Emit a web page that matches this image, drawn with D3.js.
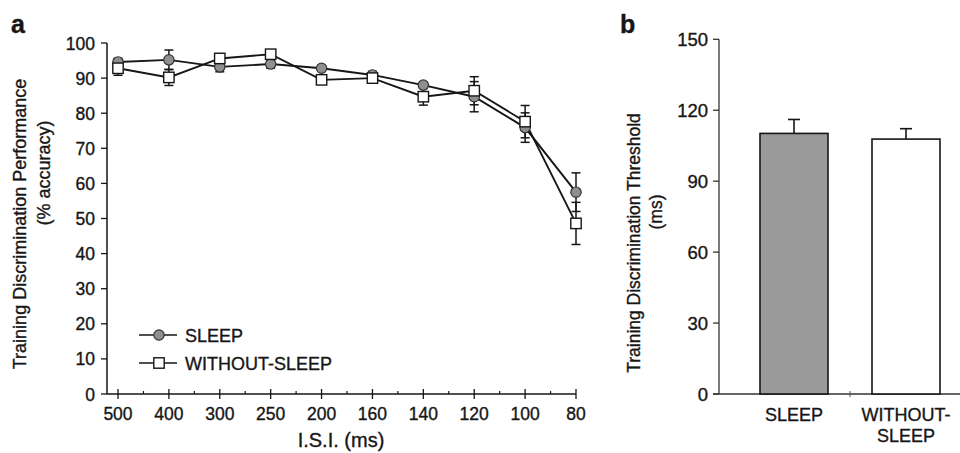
<!DOCTYPE html>
<html>
<head>
<meta charset="utf-8">
<script src="https://cdn.jsdelivr.net/npm/d3@7"></script>
<style>
  html, body { margin: 0; padding: 0; background: #fff; }
  svg { display: block; font-family: "Liberation Sans", Arial, Helvetica, sans-serif; }
  svg text { stroke: #161616; stroke-width: 0.35px; }
</style>
</head>
<body>
<svg id="chart" width="960" height="453"></svg>
<script>
// ---------- data ----------
const isiLabels = ["500", "400", "300", "250", "200", "160", "140", "120", "100", "80"];
const sleepMean = [94.6, 95.2, 93.2, 94.0, 92.8, 90.9, 88.0, 84.7, 75.9, 57.5];
const sleepErr  = [1.0, 2.8, 1.4, 1.2, 0.7, 1.0, 0.8, 4.3, 4.2, 5.5];
const wsMean    = [92.8, 90.2, 95.6, 96.8, 89.5, 90.0, 84.7, 86.4, 77.6, 48.6];
const wsErr     = [2.0, 2.3, 1.2, 1.0, 0.7, 0.8, 2.4, 4.0, 4.6, 6.0];
const yTicksA   = [0, 10, 20, 30, 40, 50, 60, 70, 80, 90, 100];

const groups    = ["SLEEP", "WITHOUT-SLEEP"];
const groupLbl  = [["SLEEP"], ["WITHOUT-", "SLEEP"]];
const thrMean   = [110.2, 107.8];
const thrErr    = [5.9, 4.4];
const yTicksB   = [0, 30, 60, 90, 120, 150];

const svg = d3.select("#chart");
const ink = "#161616";
const fsTick = 17.5;
const fsTitle = 18;

// ---------- panel a ----------
const xA = d3.scalePoint().domain(isiLabels).range([118, 576]);
const yA = d3.scaleLinear().domain([0, 100]).range([394, 43]);
const a = svg.append("g");

// y axis
a.append("line").attr("x1", 107).attr("x2", 107).attr("y1", yA(100)).attr("y2", yA(0))
  .attr("stroke", ink).attr("stroke-width", 1.5);
a.selectAll("line.ytick").data(yTicksA).enter().append("line")
  .attr("x1", 101).attr("x2", 107).attr("y1", d => yA(d)).attr("y2", d => yA(d))
  .attr("stroke", ink).attr("stroke-width", 1.3);
a.selectAll("text.ylab").data(yTicksA).enter().append("text")
  .attr("x", 95).attr("y", d => yA(d) + 6.5)
  .attr("text-anchor", "end").attr("font-size", fsTick).attr("fill", ink)
  .text(d => d);

// x axis
a.append("line").attr("x1", 107).attr("x2", xA("80")).attr("y1", yA(0)).attr("y2", yA(0))
  .attr("stroke", ink).attr("stroke-width", 1.5);
a.selectAll("line.xtick").data(isiLabels).enter().append("line")
  .attr("x1", d => xA(d)).attr("x2", d => xA(d)).attr("y1", yA(0) - 5).attr("y2", yA(0) + 5)
  .attr("stroke", ink).attr("stroke-width", 1.3);
const step = xA.step();
a.selectAll("line.xminor").data(isiLabels.slice(0, -1)).enter().append("line")
  .attr("x1", d => xA(d) + step / 2).attr("x2", d => xA(d) + step / 2)
  .attr("y1", yA(0) - 3).attr("y2", yA(0))
  .attr("stroke", ink).attr("stroke-width", 1.2);
a.selectAll("text.xlab").data(isiLabels).enter().append("text")
  .attr("x", d => xA(d)).attr("y", 420)
  .attr("text-anchor", "middle").attr("font-size", fsTick).attr("fill", ink)
  .text(d => d);

a.append("text").attr("x", 341).attr("y", 447).attr("text-anchor", "middle")
  .attr("font-size", 20).attr("fill", ink).text("I.S.I. (ms)");

a.append("text").attr("transform", "translate(26,224) rotate(-90)")
  .attr("text-anchor", "middle").attr("font-size", fsTitle).attr("fill", ink)
  .text("Training Discrimination Performance");
a.append("text").attr("transform", "translate(50,173) rotate(-90)")
  .attr("text-anchor", "middle").attr("font-size", fsTitle).attr("fill", ink)
  .text("(% accuracy)");

a.append("text").attr("x", 11).attr("y", 33).attr("font-size", 25)
  .attr("font-weight", "bold").attr("fill", ink).text("a");

// series
const series = [
  { name: "SLEEP", mean: sleepMean, err: sleepErr, shape: "circle", fill: "#8f8f8f" },
  { name: "WITHOUT-SLEEP", mean: wsMean, err: wsErr, shape: "square", fill: "#ffffff" }
];

const line = d3.line().x((d, i) => xA(isiLabels[i])).y(d => yA(d));

series.forEach(s => {
  const gs = a.append("g");
  const pts = s.mean.map((m, i) => ({ k: isiLabels[i], m, e: s.err[i] }));
  // error bars
  gs.selectAll("line.eb").data(pts).enter().append("line")
    .attr("x1", d => xA(d.k)).attr("x2", d => xA(d.k))
    .attr("y1", d => yA(d.m - d.e)).attr("y2", d => yA(d.m + d.e))
    .attr("stroke", ink).attr("stroke-width", 1.5);
  [-1, 1].forEach(sg => {
    gs.selectAll(null).data(pts).enter().append("line")
      .attr("x1", d => xA(d.k) - 4.5).attr("x2", d => xA(d.k) + 4.5)
      .attr("y1", d => yA(d.m + sg * d.e)).attr("y2", d => yA(d.m + sg * d.e))
      .attr("stroke", ink).attr("stroke-width", 1.5);
  });
  gs.append("path").datum(s.mean).attr("d", line)
    .attr("fill", "none").attr("stroke", ink).attr("stroke-width", 1.9);
});

series.forEach(s => {
  const pts = s.mean.map((m, i) => ({ k: isiLabels[i], m }));
  if (s.shape === "circle") {
    a.selectAll(null).data(pts).enter().append("circle")
      .attr("cx", d => xA(d.k)).attr("cy", d => yA(d.m)).attr("r", 5.2)
      .attr("fill", s.fill).attr("stroke", "#333").attr("stroke-width", 1.2);
  } else {
    a.selectAll(null).data(pts).enter().append("rect")
      .attr("x", d => xA(d.k) - 5.2).attr("y", d => yA(d.m) - 5.2)
      .attr("width", 10.4).attr("height", 10.4)
      .attr("fill", s.fill).attr("stroke", ink).attr("stroke-width", 1.4);
  }
});

// legend
const lg = a.append("g");
series.forEach((s, i) => {
  const y = 335 + i * 28;
  lg.append("line").attr("x1", 139).attr("x2", 177).attr("y1", y).attr("y2", y)
    .attr("stroke", ink).attr("stroke-width", 1.7);
  if (s.shape === "circle") {
    lg.append("circle").attr("cx", 159).attr("cy", y).attr("r", 5.2)
      .attr("fill", s.fill).attr("stroke", "#333").attr("stroke-width", 1.2);
  } else {
    lg.append("rect").attr("x", 153.8).attr("y", y - 5.2).attr("width", 10.4).attr("height", 10.4)
      .attr("fill", s.fill).attr("stroke", ink).attr("stroke-width", 1.4);
  }
  lg.append("text").attr("x", 185).attr("y", y + 6.5).attr("font-size", fsTitle)
    .attr("fill", ink).text(s.name);
});

// ---------- panel b ----------
const xB = d3.scaleBand().domain(groups).range([738, 962]).paddingInner(44 / 112).paddingOuter(22 / 112);
const yB = d3.scaleLinear().domain([0, 150]).range([394, 39.3]);
const b = svg.append("g");

b.append("line").attr("x1", 719).attr("x2", 719).attr("y1", yB(150)).attr("y2", yB(0))
  .attr("stroke", "#333").attr("stroke-width", 1.3);
b.selectAll("line.ytick").data(yTicksB).enter().append("line")
  .attr("x1", 713).attr("x2", 719).attr("y1", d => yB(d)).attr("y2", d => yB(d))
  .attr("stroke", "#333").attr("stroke-width", 1.3);
b.selectAll("text.ylab").data(yTicksB).enter().append("text")
  .attr("x", 708).attr("y", d => yB(d) + 6.5)
  .attr("text-anchor", "end").attr("font-size", 18.5).attr("fill", ink)
  .text(d => d);

b.append("line").attr("x1", 713).attr("x2", 960).attr("y1", yB(0)).attr("y2", yB(0))
  .attr("stroke", "#333").attr("stroke-width", 1.3);
const midTick = xB(groups[0]) + xB.bandwidth() + (xB.step() - xB.bandwidth()) / 2;
b.append("line").attr("x1", midTick).attr("x2", midTick).attr("y1", yB(0) - 3).attr("y2", yB(0) + 3)
  .attr("stroke", "#555").attr("stroke-width", 1);

// bars
const bars = groups.map((g, i) => ({ g, m: thrMean[i], e: thrErr[i], fill: i === 0 ? "#9a9a9a" : "#ffffff" }));
b.selectAll("line.eb").data(bars).enter().append("line")
  .attr("x1", d => xB(d.g) + xB.bandwidth() / 2).attr("x2", d => xB(d.g) + xB.bandwidth() / 2)
  .attr("y1", d => yB(d.m)).attr("y2", d => yB(d.m + d.e))
  .attr("stroke", ink).attr("stroke-width", 1.6);
b.selectAll("line.cap").data(bars).enter().append("line")
  .attr("x1", d => xB(d.g) + xB.bandwidth() / 2 - 6).attr("x2", d => xB(d.g) + xB.bandwidth() / 2 + 6)
  .attr("y1", d => yB(d.m + d.e)).attr("y2", d => yB(d.m + d.e))
  .attr("stroke", ink).attr("stroke-width", 1.6);
b.selectAll("rect.bar").data(bars).enter().append("rect")
  .attr("x", d => xB(d.g)).attr("y", d => yB(d.m))
  .attr("width", xB.bandwidth()).attr("height", d => yB(0) - yB(d.m))
  .attr("fill", d => d.fill).attr("stroke", ink).attr("stroke-width", 1.6);

groups.forEach((g, i) => {
  groupLbl[i].forEach((t, j) => {
    b.append("text").attr("x", xB(g) + xB.bandwidth() / 2).attr("y", 421 + j * 21)
      .attr("text-anchor", "middle").attr("font-size", fsTitle).attr("fill", ink).text(t);
  });
});

b.append("text").attr("transform", "translate(640,243) rotate(-90)")
  .attr("text-anchor", "middle").attr("font-size", 17.5).attr("fill", ink)
  .text("Training Discrimination Threshold");
b.append("text").attr("transform", "translate(662,212) rotate(-90)")
  .attr("text-anchor", "middle").attr("font-size", 17.5).attr("fill", ink)
  .text("(ms)");

b.append("text").attr("x", 620).attr("y", 33).attr("font-size", 25)
  .attr("font-weight", "bold").attr("fill", ink).text("b");
</script>
</body>
</html>
